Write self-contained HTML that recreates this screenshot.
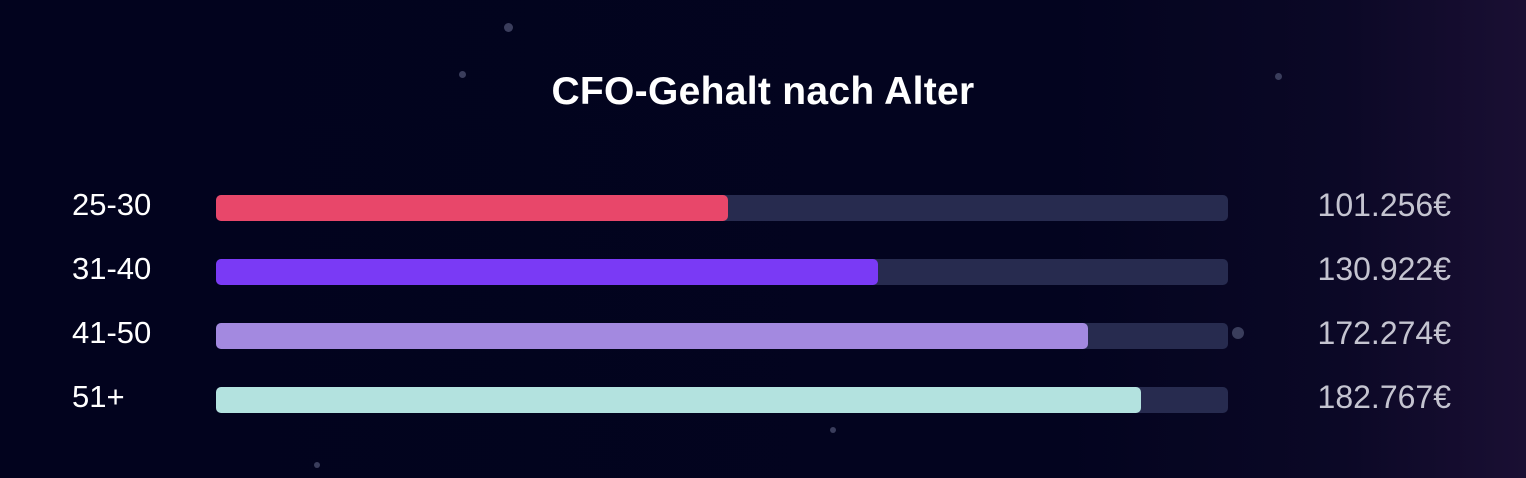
<!DOCTYPE html>
<html><head><meta charset="utf-8">
<style>
html,body{margin:0;padding:0}
body{width:1526px;height:478px;overflow:hidden;position:relative;
background:linear-gradient(90deg,#02031e 0%,#03041f 70%,#0b0826 88%,#1a0f33 100%);
font-family:"Liberation Sans",sans-serif;}
.title{position:absolute;left:0;width:1526px;top:70px;text-align:center;color:#fff;font-size:39px;font-weight:bold;letter-spacing:0.3px}
.lab{position:absolute;left:72px;color:#fff;font-size:31px}
.val{position:absolute;right:75px;color:#c4c4d0;font-size:32px;text-align:right}
.track{position:absolute;left:216px;width:1012px;height:26px;border-radius:5px;background:#272b4f}
.bar{position:absolute;left:0;top:0;height:26px;border-radius:5px}
.dot{position:absolute;border-radius:50%;background:#3a3d5c}
</style></head><body>
<div class="dot" style="left:504px;top:23px;width:9px;height:9px"></div>
<div class="dot" style="left:459px;top:71px;width:7px;height:7px"></div>
<div class="dot" style="left:1275px;top:73px;width:7px;height:7px"></div>
<div class="dot" style="left:1232px;top:327px;width:12px;height:12px"></div>
<div class="dot" style="left:830px;top:427px;width:6px;height:6px"></div>
<div class="dot" style="left:314px;top:462px;width:6px;height:6px"></div>
<div class="title">CFO-Gehalt nach Alter</div>
<div id="rows"></div>
<script>
const categories=["25-30","31-40","41-50","51+"];
const values=[101256,130922,172274,182767];
const valueLabels=["101.256€","130.922€","172.274€","182.767€"];
const colors=["#e8476a","#7a3af5","#a389e0","#b3e2df"];
const maxVal=200000;
const trackW=1012, rowTop=195, rowGap=64;
const x=v=>v/maxVal*trackW;
const root=document.getElementById('rows');
categories.forEach((c,i)=>{
  const y=rowTop+i*rowGap;
  const lab=document.createElement('div');
  lab.className='lab';lab.style.top=(y-8)+'px';lab.textContent=c;
  
  
  root.appendChild(lab);
  const tr=document.createElement('div');
  tr.className='track';tr.style.top=y+'px';
  
  
  const b=document.createElement('div');
  b.className='bar';b.style.width=x(values[i])+'px';b.style.background=colors[i];
  
  
  tr.appendChild(b);root.appendChild(tr);
  const v=document.createElement('div');
  v.className='val';v.style.top=(y-8)+'px';v.textContent=valueLabels[i];
  
  
  root.appendChild(v);
});
</script>
</body></html>
